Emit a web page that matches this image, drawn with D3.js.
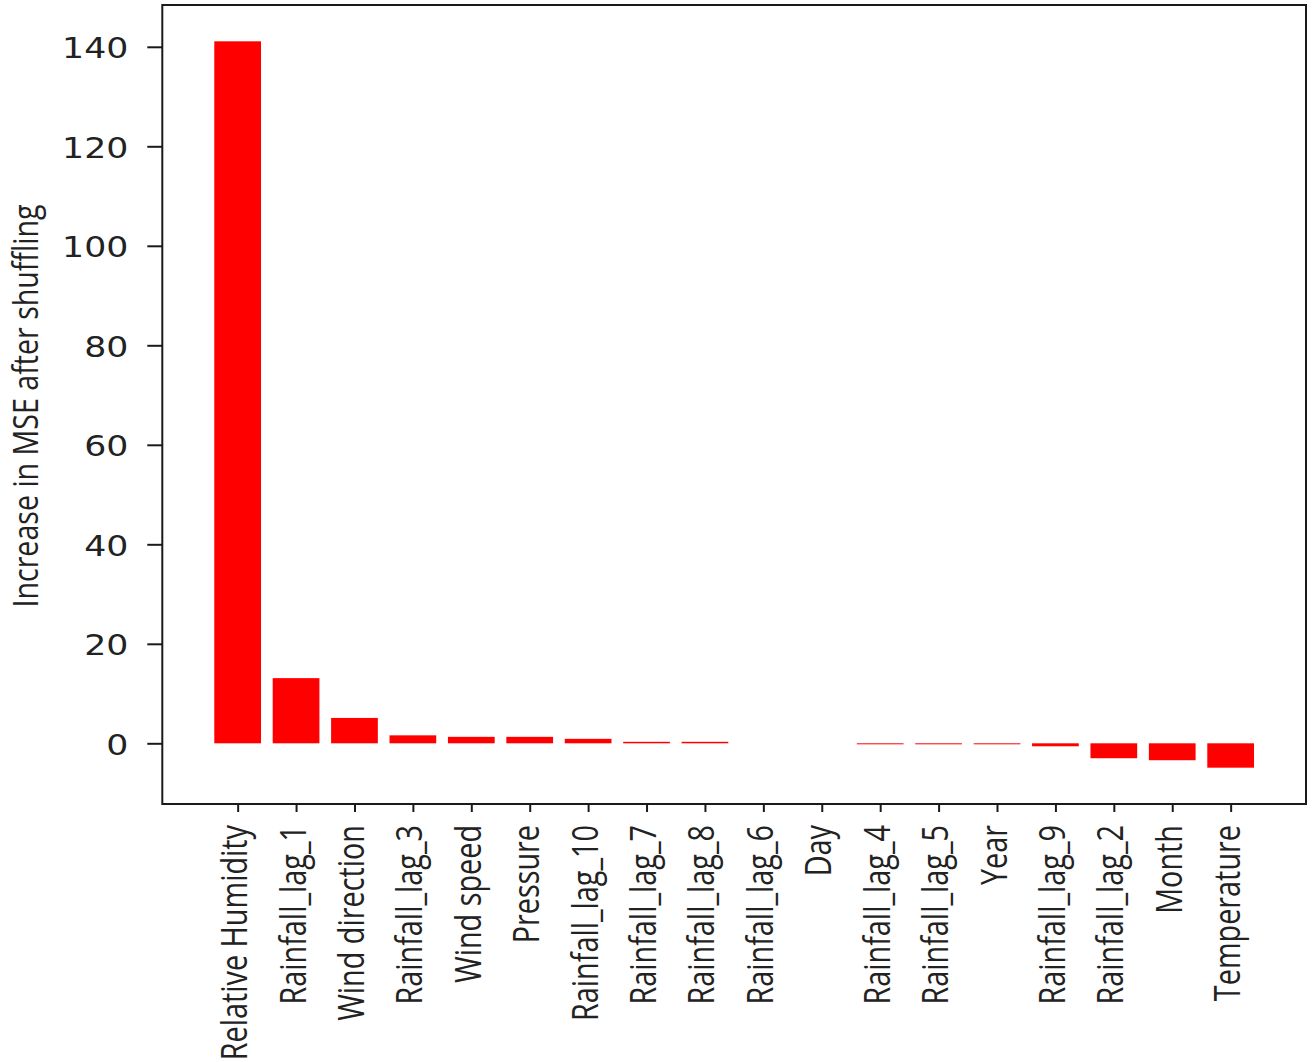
<!DOCTYPE html>
<html><head><meta charset="utf-8">
<script src="https://cdn.jsdelivr.net/npm/d3@7"></script>
<style>body{margin:0;background:#fff}svg{display:block}</style>
</head><body>
<svg id="c" width="1314" height="1062"></svg>
<script>
const categories = ["Relative Humidity","Rainfall_lag_1","Wind direction","Rainfall_lag_3","Wind speed","Pressure","Rainfall_lag_10","Rainfall_lag_7","Rainfall_lag_8","Rainfall_lag_6","Day","Rainfall_lag_4","Rainfall_lag_5","Year","Rainfall_lag_9","Rainfall_lag_2","Month","Temperature"];
const values = [141.1,13.1,5.1,1.6,1.3,1.3,0.9,0.3,0.3,0,0,-0.2,-0.2,-0.2,-0.6,-3.0,-3.4,-4.9];
const yTicks = [0,20,40,60,80,100,120,140];
const yLabel = "Increase in MSE after shuffling";

const svg = d3.select("#c");
const L = 162.3, R = 1306, T = 5, B = 804;
const SX = 1.24;
const n = categories.length, bw = 0.8;
const x0 = -bw/2, x1 = n-1+bw/2, xm = (x1-x0)*0.05;
const x = d3.scaleLinear().domain([x0-xm, x1+xm]).range([L, R]);
const vmin = d3.min(values), vmax = d3.max(values), ym = (vmax-vmin)*0.05;
const y = d3.scaleLinear().domain([vmin-ym, vmax+ym]).range([B, T]);

svg.append("g").selectAll("rect").data(values).join("rect")
  .attr("x", (d,i)=>x(i-bw/2)).attr("width", x(bw)-x(0))
  .attr("y", d=>y(Math.max(0,d))).attr("height", d=>Math.abs(y(d)-y(0)))
  .attr("fill", "#ff0000");

// frame
svg.append("rect").attr("x",L).attr("y",T).attr("width",R-L).attr("height",B-T)
  .attr("fill","none").attr("stroke","#1a1a1a").attr("stroke-width",2);

const ya = svg.append("g").attr("transform",`translate(${L},0)`)
  .call(d3.axisLeft(y).tickValues(yTicks).tickSize(15).tickPadding(0));
ya.select(".domain").remove();
ya.selectAll("line").attr("stroke","#1a1a1a").attr("stroke-width",2);
ya.selectAll("text").attr("x",null).attr("dy",null)
  .attr("dominant-baseline","central")
  .attr("transform",`translate(-34,1) scale(${SX},1)`)
  .attr("font-family","DejaVu Sans").attr("font-size",28).attr("fill","#222");

const xa = svg.append("g").attr("transform",`translate(0,${B})`)
  .call(d3.axisBottom(x).tickValues(d3.range(n)).tickFormat(i=>categories[i]).tickSize(8).tickPadding(0));
xa.select(".domain").remove();
xa.selectAll("line").attr("stroke","#1a1a1a").attr("stroke-width",2);
xa.selectAll("text").attr("y",null).attr("dy",null)
  .attr("text-anchor","end")
  .attr("transform",`translate(9,21) scale(${SX},1) rotate(-90)`)
  .attr("font-family","Open Sans").attr("font-size",28.8).attr("fill","#222");

svg.append("text").text(yLabel)
  .attr("transform",`translate(38,406) scale(${SX},1) rotate(-90)`)
  .attr("text-anchor","middle").attr("font-family","Open Sans").attr("font-size",28.6).attr("fill","#222");
</script>
</body></html>
